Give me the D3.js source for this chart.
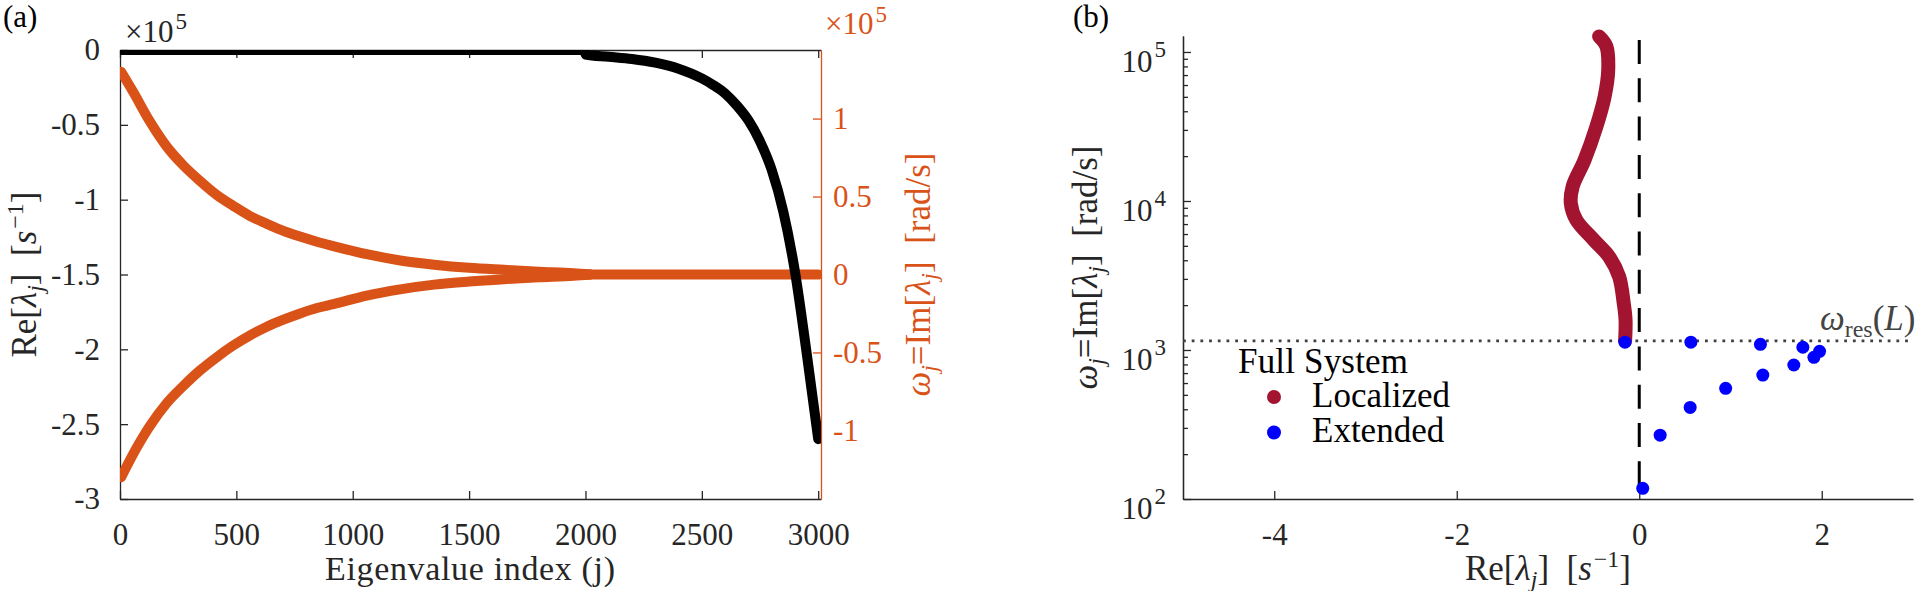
<!DOCTYPE html>
<html>
<head>
<meta charset="utf-8">
<script src="https://cdn.jsdelivr.net/npm/d3@7"></script>
<style>
  body { margin: 0; background: #fff; }
</style>
</head>
<body>
<div id="container-id-1"></div>
<script>

// panel (a) data
/////////////////////

// Re[lambda_j] (x1e5) against eigenvalue index
var re_index = [0, 1995, 2000, 2100, 2200, 2300, 2400, 2500, 2550, 2600, 2650, 2700, 2750, 2800, 2850, 2900, 2950, 3000];
var re_values = [0, 0, -0.03, -0.045, -0.06, -0.085, -0.125, -0.19, -0.235, -0.29, -0.37, -0.47, -0.61, -0.80, -1.08, -1.48, -2.02, -2.60];

// Im[lambda_j] (x1e5), the two branches
var im_index = [5, 57, 129, 201, 272, 344, 416, 487, 559, 631, 702, 774, 846, 917, 1060, 1204, 1350, 1500, 1650, 1800, 1950, 2020];
var im_upper = [1.30, 1.17, 0.98, 0.82, 0.70, 0.60, 0.51, 0.44, 0.375, 0.325, 0.28, 0.243, 0.21, 0.182, 0.13, 0.09, 0.063, 0.043, 0.03, 0.018, 0.008, 0];
var im_lower = [-1.30, -1.15, -0.97, -0.825, -0.715, -0.615, -0.53, -0.455, -0.39, -0.335, -0.29, -0.25, -0.215, -0.19, -0.135, -0.095, -0.065, -0.045, -0.03, -0.018, -0.008, 0];
var im_zero_index = [1990, 3000];
var im_zero_values = [0, 0];

var a_x_ticks = [0, 500, 1000, 1500, 2000, 2500, 3000];
var a_x_labels = ['0', '500', '1000', '1500', '2000', '2500', '3000'];
var a_left_ticks = [0, -0.5, -1, -1.5, -2, -2.5, -3];
var a_left_labels = ['0', '-0.5', '-1', '-1.5', '-2', '-2.5', '-3'];
var a_right_ticks = [1, 0.5, 0, -0.5, -1];
var a_right_labels = ['1', '0.5', '0', '-0.5', '-1'];

// panel (b) data
/////////////////////

// localized branch (Re, Im), bottom to top
var loc_re = [-0.155, -0.15, -0.17, -0.22, -0.33, -0.50, -0.69, -0.75, -0.73, -0.60, -0.47, -0.38, -0.34, -0.36, -0.44];
var loc_im = [1150, 1590, 2056, 3100, 4230, 5490, 7470, 9660, 12500, 18800, 31500, 50000, 75700, 109000, 127000];

// extended modes (Re, Im)
var ext_re = [-0.156, 0.566, 1.328, 1.793, 1.976, 1.914, 1.694, 1.354, 0.947, 0.558, 0.229, 0.038];
var ext_im = [1128, 1128, 1091, 1043, 979, 893, 793, 679, 553, 412, 268, 118];

var omega_res = 1150;

var b_x_ticks = [-4, -2, 0, 2];
var b_x_labels = ['-4', '-2', '0', '2'];
var b_y_ticks = [100, 1000, 10000, 100000];
var b_y_exponents = ['2', '3', '4', '5'];
var b_y_minor = [200, 300, 400, 500, 600, 700, 800, 900,
                 2000, 3000, 4000, 5000, 6000, 7000, 8000, 9000,
                 20000, 30000, 40000, 50000, 60000, 70000, 80000, 90000];

var legend_names = ['Localized', 'Extended'];

// colours and font
var axis_color = '#262626';
var orange = '#D95319';
var dark_red = '#A2142F';
var blue = '#0000FF';
var font_serif = '"Liberation Serif"';

// helpers
function _each(arr, fn){ for (var i = 0; i < arr.length; i++) { fn(arr[i], i); } }

// text with sub/superscripts
function rich(sel, parts){
  var shift = 0;
  sel.style('font-family', font_serif);
  _each(parts, function(p){
    var s = p.s || 0;
    var ts = sel.append('tspan').text(p.t).attr('dy', s - shift)
      .style('font-family', font_serif);
    shift = s;
    if (s < 0) { ts.attr('dx', 2); }
    if (p.i) { ts.style('font-style', 'italic'); }
    if (p.f) { ts.attr('font-size', p.f); }
  });
  return sel;
}

function style_axis(g, color, size){
  g.attr('font-size', size).style('font-family', font_serif);
  g.selectAll('path, line').attr('stroke', color).attr('stroke-width', 1.3);
  g.selectAll('text').attr('fill', color).style('font-family', font_serif);
}

var svg = d3.select('#container-id-1')
  .append('svg')
  .attr('width', 1920)
  .attr('height', 591);

// panel (a)
/////////////////////

var xA = d3.scaleLinear().domain([0, 3012]).range([120, 821]);
var yA = d3.scaleLinear().domain([-3, 0]).range([499, 50]);
var yA2 = d3.scaleLinear().domain([-1.44, 1.44]).range([499, 50]);

svg.append('clipPath').attr('id', 'clip-a')
  .append('rect').attr('x', 120).attr('y', 50).attr('width', 701).attr('height', 449);

var gA = svg.append('g');

// axes
var ax_bottom = gA.append('g').attr('transform', 'translate(0,499)')
  .call(d3.axisBottom(xA).tickValues(a_x_ticks).tickSizeInner(-8).tickSizeOuter(0).tickPadding(24)
    .tickFormat(function(d, i){ return a_x_labels[i]; }));
style_axis(ax_bottom, axis_color, 31);

var ax_top = gA.append('g').attr('transform', 'translate(0,50)')
  .call(d3.axisTop(xA).tickValues(a_x_ticks).tickSizeInner(-8).tickSizeOuter(0).tickFormat(''));
style_axis(ax_top, axis_color, 31);

var ax_left = gA.append('g').attr('transform', 'translate(120,0)')
  .call(d3.axisLeft(yA).tickValues(a_left_ticks).tickSizeInner(-8).tickSizeOuter(0).tickPadding(20)
    .tickFormat(function(d, i){ return a_left_labels[i]; }));
style_axis(ax_left, axis_color, 31);

var ax_right = gA.append('g').attr('transform', 'translate(821,0)')
  .call(d3.axisRight(yA2).tickValues(a_right_ticks).tickSizeInner(-8).tickSizeOuter(0).tickPadding(12)
    .tickFormat(function(d, i){ return a_right_labels[i]; }));
style_axis(ax_right, orange, 31);

// data lines
var plot_a = gA.append('g').attr('clip-path', 'url(#clip-a)');

function line_a(xs, ys, yscale){
  return d3.line()
    .x(function(d, i){ return xA(xs[i]); })
    .y(function(d, i){ return yscale(ys[i]); })
    .curve(d3.curveMonotoneX)(xs);
}

_each([[im_upper, im_index], [im_lower, im_index], [im_zero_values, im_zero_index]], function(s){
  plot_a.append('path')
    .attr('d', line_a(s[1], s[0], yA2))
    .attr('fill', 'none')
    .attr('stroke', orange)
    .attr('stroke-width', 10)
    .attr('stroke-linecap', 'round')
    .attr('stroke-linejoin', 'round');
});

plot_a.append('path')
  .attr('d', line_a(re_index, re_values, yA))
  .attr('fill', 'none')
  .attr('stroke', '#000')
  .attr('stroke-width', 10)
  .attr('stroke-linecap', 'round')
  .attr('stroke-linejoin', 'round');

// labels
rich(svg.append('text').attr('x', 3).attr('y', 27).attr('font-size', 31).attr('fill', '#000'),
  [{t: '(a)'}]);

rich(svg.append('text').attr('x', 125).attr('y', 42).attr('font-size', 31).attr('fill', axis_color),
  [{t: '\u00d710'}, {t: '5', s: -13, f: 23}]);

rich(svg.append('text').attr('x', 825).attr('y', 34).attr('font-size', 31).attr('fill', orange),
  [{t: '\u00d710'}, {t: '5', s: -12, f: 23}]);

rich(svg.append('text')
  .attr('x', 470).attr('y', 580)
  .attr('text-anchor', 'middle')
  .attr('font-size', 34)
  .attr('fill', axis_color)
  .attr('textLength', 290)
  .attr('lengthAdjust', 'spacing'),
  [{t: 'Eigenvalue index (j)'}]);

rich(svg.append('text')
  .attr('transform', 'translate(36,274.5) rotate(-90)')
  .attr('text-anchor', 'middle').attr('font-size', 35).attr('fill', axis_color),
  [{t: 'Re['}, {t: '\u03bb', i: 1}, {t: 'j', i: 1, s: 7, f: 24}, {t: ']\u00a0\u00a0['},
   {t: 's', i: 1}, {t: '\u22121', s: -13, f: 24}, {t: ']'}]);

rich(svg.append('text')
  .attr('transform', 'translate(930,274.5) rotate(-90)')
  .attr('text-anchor', 'middle').attr('font-size', 35).attr('fill', orange),
  [{t: '\u03c9', i: 1}, {t: 'j', i: 1, s: 7, f: 24}, {t: '=Im['}, {t: '\u03bb', i: 1},
   {t: 'j', i: 1, s: 7, f: 24}, {t: ']\u00a0\u00a0[rad/s]'}]);

// panel (b)
/////////////////////

var xB = d3.scaleLinear().domain([-5, 3]).range([1183, 1913]);
var yB = d3.scaleLog().domain([100, 128000]).range([499, 36]);

var gB = svg.append('g');

var bx_axis = gB.append('g').attr('transform', 'translate(0,499)')
  .call(d3.axisBottom(xB).tickValues(b_x_ticks).tickSizeInner(-8).tickSizeOuter(0).tickPadding(24)
    .tickFormat(function(d, i){ return b_x_labels[i]; }));
style_axis(bx_axis, axis_color, 31);

var by_minor = gB.append('g').attr('transform', 'translate(1183,0)')
  .call(d3.axisLeft(yB).tickValues(b_y_minor).tickSizeInner(-5).tickSizeOuter(0).tickFormat(''));
style_axis(by_minor, axis_color, 31);

var by_major = gB.append('g').attr('transform', 'translate(1183,0)')
  .call(d3.axisLeft(yB).tickValues(b_y_ticks).tickSizeInner(-8).tickSizeOuter(0).tickFormat(''));
style_axis(by_major, axis_color, 31);

_each(b_y_ticks, function(v, i){
  rich(gB.append('text')
    .attr('x', 1166).attr('y', yB(v) + 20)
    .attr('text-anchor', 'end').attr('font-size', 31).attr('fill', axis_color),
    [{t: '10'}, {t: b_y_exponents[i], s: -15, f: 23}]);
});

// reference lines
gB.append('line')
  .attr('x1', xB(0)).attr('x2', xB(0))
  .attr('y1', yB(128000)).attr('y2', yB(100))
  .attr('stroke', '#000').attr('stroke-width', 3)
  .attr('stroke-dasharray', '24,14.3')
  .attr('stroke-dashoffset', -4);

gB.append('line')
  .attr('x1', xB(-5)).attr('x2', xB(3))
  .attr('y1', yB(omega_res)).attr('y2', yB(omega_res))
  .attr('stroke', '#404040').attr('stroke-width', 2.8)
  .attr('stroke-dasharray', '2.8,5.9');

// localized branch
gB.append('path')
  .attr('d', d3.line()
    .x(function(d, i){ return xB(loc_re[i]); })
    .y(function(d, i){ return yB(loc_im[i]); })
    .curve(d3.curveCatmullRom)(loc_re))
  .attr('fill', 'none')
  .attr('stroke', dark_red)
  .attr('stroke-width', 14)
  .attr('stroke-linecap', 'round')
  .attr('stroke-linejoin', 'round');

// extended modes
gB.selectAll('circle.ext')
  .data(ext_re)
  .enter()
  .append('circle')
  .classed('ext', true)
  .attr('cx', function(d){ return xB(d); })
  .attr('cy', function(d, i){ return yB(ext_im[i]); })
  .attr('r', 6.5)
  .attr('fill', blue);

// omega_res label
rich(gB.append('text').attr('x', 1820).attr('y', 330).attr('font-size', 35).attr('fill', '#444'),
  [{t: '\u03c9', i: 1}, {t: 'res', s: 7, f: 24}, {t: '('}, {t: 'L', i: 1}, {t: ')'}]);

// legend
rich(gB.append('text').attr('x', 1238).attr('y', 373).attr('font-size', 35).attr('fill', '#000')
  .attr('textLength', 170).attr('lengthAdjust', 'spacing'),
  [{t: 'Full System'}]);
_each(legend_names, function(name, i){
  gB.append('circle')
    .attr('cx', 1274).attr('cy', 397 + i * 35.5).attr('r', 7)
    .attr('fill', i === 0 ? dark_red : blue);
  rich(gB.append('text')
    .attr('x', 1312).attr('y', 407 + i * 35)
    .attr('font-size', 35).attr('fill', '#000'),
    [{t: name}]);
});

// axis labels
rich(gB.append('text').attr('x', 1548).attr('y', 580)
  .attr('text-anchor', 'middle').attr('font-size', 35).attr('fill', axis_color),
  [{t: 'Re['}, {t: '\u03bb', i: 1}, {t: 'j', i: 1, s: 7, f: 24}, {t: ']\u00a0\u00a0['},
   {t: 's', i: 1}, {t: '\u22121', s: -13, f: 24}, {t: ']'}]);

rich(gB.append('text')
  .attr('transform', 'translate(1097,267.5) rotate(-90)')
  .attr('text-anchor', 'middle').attr('font-size', 35).attr('fill', axis_color),
  [{t: '\u03c9', i: 1}, {t: 'j', i: 1, s: 7, f: 24}, {t: '=Im['}, {t: '\u03bb', i: 1},
   {t: 'j', i: 1, s: 7, f: 24}, {t: ']\u00a0\u00a0[rad/s]'}]);

rich(svg.append('text').attr('x', 1073).attr('y', 27).attr('font-size', 31).attr('fill', '#000'),
  [{t: '(b)'}]);

</script>
</body>
</html>
